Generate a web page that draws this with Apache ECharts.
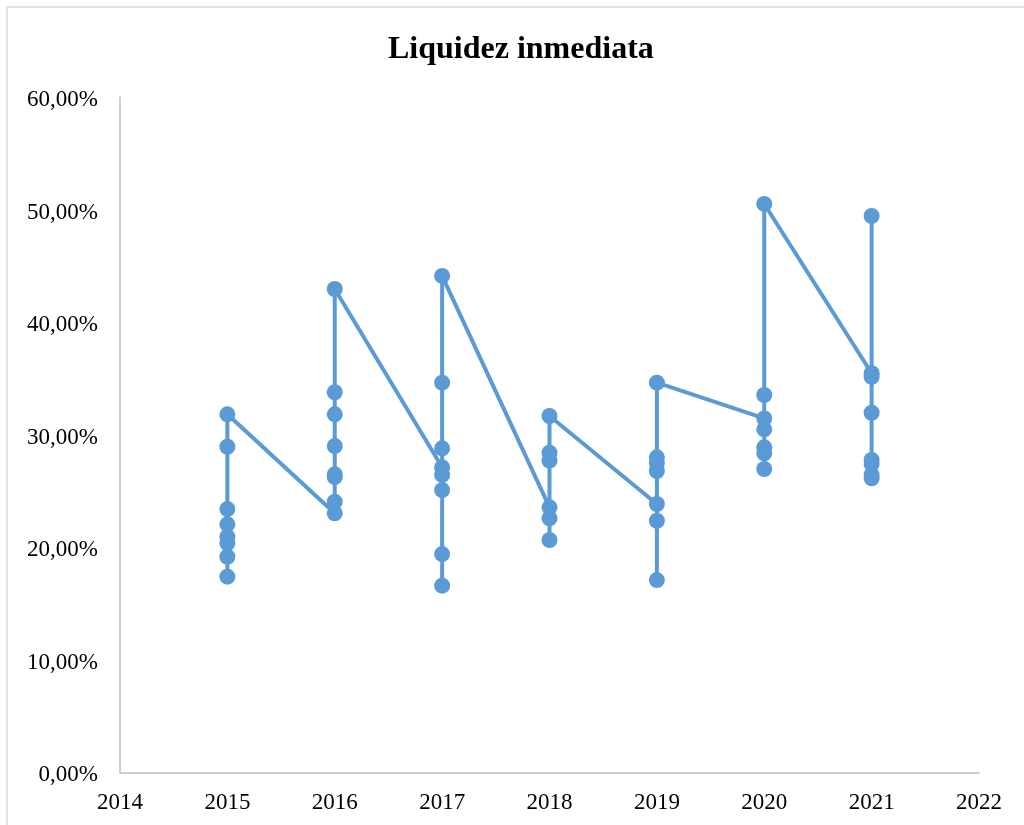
<!DOCTYPE html>
<html>
<head>
<meta charset="utf-8">
<script src="https://cdn.jsdelivr.net/npm/echarts@6/dist/echarts.min.js"></script>
<style>
html,body{margin:0;padding:0;background:#fff;}
#chart{width:1024px;height:825px;}
</style>
</head>
<body>
<div id="chart"></div>
<script>
const titleText = 'Liquidez inmediata';
const years = [2015, 2016, 2017, 2018, 2019, 2020, 2021];
// values per year (%), in drawing order
const v2015 = [17.39, 19.16, 20.36, 20.94, 22.04, 23.40, 28.94, 31.82];
const v2016 = [23.02, 24.05, 26.25, 26.49, 29.00, 31.82, 33.78, 42.96];
const v2017 = [27.11, 26.43, 25.09, 19.40, 16.59, 28.80, 34.63, 44.12];
const v2018 = [23.55, 22.58, 20.65, 27.70, 28.41, 31.67];
const v2019 = [23.85, 22.36, 17.09, 26.78, 27.50, 28.00, 34.63];
const v2020 = [31.46, 30.49, 28.89, 28.36, 26.96, 33.54, 50.52];
const v2021 = [35.47, 35.16, 31.96, 27.76, 27.40, 26.43, 26.13, 49.45];
const valuesByYear = [v2015, v2016, v2017, v2018, v2019, v2020, v2021];
const xTicks = {min: 2014, max: 2022, interval: 1};
const yTicks = {min: 0, max: 60, interval: 10};

const data = [];
years.forEach((yr, i) => valuesByYear[i].forEach(v => data.push([yr, v])));

const font = '"Liberation Serif", "Times New Roman", serif';
const chart = echarts.init(document.getElementById('chart'));
chart.setOption({
  animation: false,
  backgroundColor: '#fff',
  title: {
    text: titleText,
    left: 383,
    top: 29,
    textStyle: {fontFamily: font, fontSize: 32, fontWeight: 'bold', color: '#000'}
  },
  graphic: [{
    type: 'rect',
    shape: {x: 7, y: 7, width: 1100, height: 900},
    style: {fill: 'none', stroke: '#d9d9d9', lineWidth: 1.5},
    silent: true, z: -1
  }],
  grid: {left: 120, right: 45, top: 97.3, bottom: 52.7, containLabel: false},
  xAxis: {
    type: 'value',
    min: xTicks.min, max: xTicks.max, interval: xTicks.interval,
    axisLine: {show: true, lineStyle: {color: '#bfbfbf', width: 1.5}},
    axisTick: {show: false},
    splitLine: {show: false},
    axisLabel: {
      formatter: v => String(v),
      fontFamily: font, fontSize: 23, color: '#000', margin: 19
    }
  },
  yAxis: {
    type: 'value',
    min: yTicks.min, max: yTicks.max, interval: yTicks.interval,
    axisLine: {show: true, lineStyle: {color: '#bfbfbf', width: 1.5}},
    axisTick: {show: false},
    splitLine: {show: false},
    axisLabel: {
      formatter: v => '{a|' + v.toFixed(2).replace('.', ',') + '%}',
      margin: 22,
      rich: {
        a: {fontFamily: font, fontSize: 23, color: '#000', padding: [6, 0, 0, 0]}
      }
    }
  },
  series: [{
    type: 'line',
    data: data,
    symbol: 'circle',
    symbolSize: 16,
    lineStyle: {color: '#5b9bd5', width: 4},
    itemStyle: {color: '#5b9bd5'}
  }]
});
</script>
</body>
</html>
